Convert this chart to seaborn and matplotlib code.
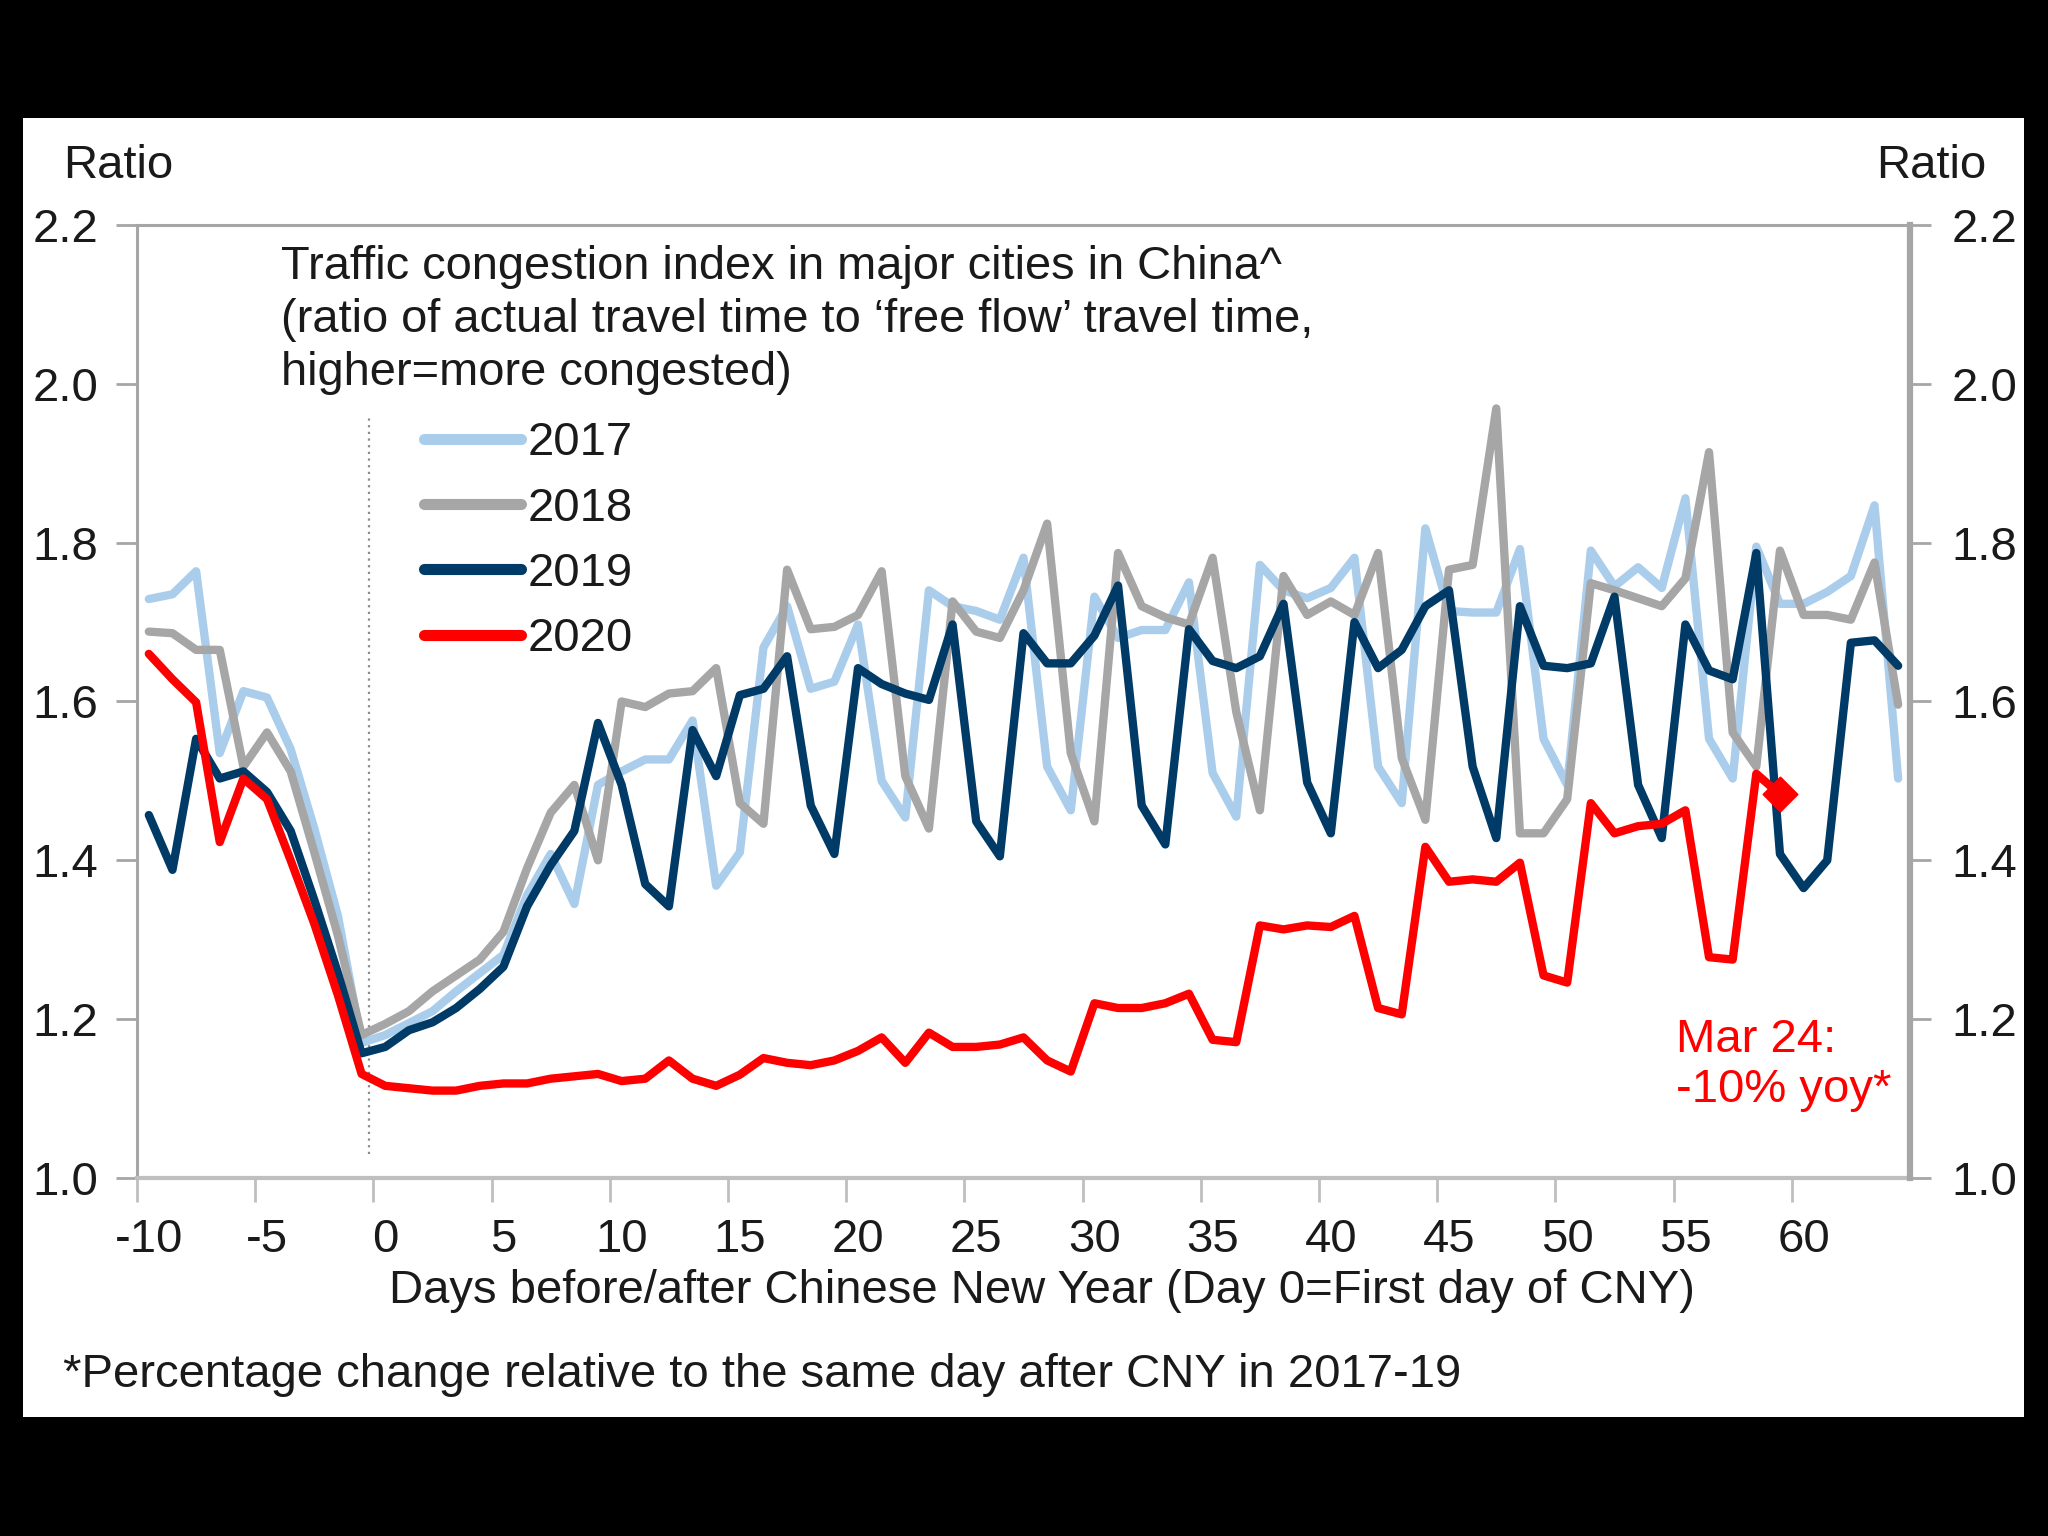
import numpy as np
import pandas as pd
import matplotlib
matplotlib.use("Agg")
import matplotlib.pyplot as plt
from matplotlib.lines import Line2D
from matplotlib.patches import Rectangle
import seaborn as sns

# ---------------- data ----------------
days = list(range(-10, 65))

y2017 = [1.729, 1.735, 1.764, 1.535, 1.613, 1.605, 1.540, 1.440, 1.330, 1.170,
         1.180, 1.195, 1.210, 1.235, 1.258, 1.281, 1.356, 1.408, 1.345, 1.495,
         1.512, 1.527, 1.527, 1.576, 1.368, 1.410, 1.668, 1.720, 1.616, 1.625,
         1.697, 1.500, 1.454, 1.740, 1.720, 1.714, 1.703, 1.781, 1.518, 1.463,
         1.732, 1.680, 1.690, 1.690, 1.750, 1.510, 1.455, 1.772, 1.740, 1.730,
         1.743, 1.781, 1.518, 1.472, 1.818, 1.714, 1.712, 1.712, 1.792, 1.553,
         1.495, 1.790, 1.745, 1.769, 1.743, 1.856, 1.553, 1.503, 1.795, 1.723,
         1.723, 1.738, 1.758, 1.847, 1.503]

y2018 = [1.688, 1.686, 1.665, 1.665, 1.518, 1.561, 1.512, 1.410, 1.305, 1.180,
         1.194, 1.210, 1.235, 1.255, 1.275, 1.310, 1.390, 1.460, 1.495, 1.400,
         1.600, 1.593, 1.610, 1.613, 1.642, 1.472, 1.446, 1.766, 1.691, 1.694,
         1.709, 1.764, 1.506, 1.440, 1.726, 1.688, 1.680, 1.740, 1.824, 1.535,
         1.449, 1.787, 1.720, 1.706, 1.697, 1.781, 1.587, 1.463, 1.758, 1.709,
         1.726, 1.709, 1.787, 1.529, 1.451, 1.766, 1.772, 1.969, 1.434, 1.434,
         1.477, 1.749, 1.740, 1.730, 1.720, 1.755, 1.914, 1.561, 1.518, 1.790,
         1.709, 1.709, 1.703, 1.775, 1.596]

y2019 = [1.457, 1.388, 1.553, 1.503, 1.512, 1.486, 1.437, 1.350, 1.258, 1.157,
         1.165, 1.186, 1.196, 1.214, 1.238, 1.266, 1.342, 1.394, 1.437, 1.573,
         1.495, 1.370, 1.342, 1.564, 1.506, 1.608, 1.616, 1.657, 1.469, 1.408,
         1.642, 1.622, 1.610, 1.602, 1.697, 1.449, 1.405, 1.686, 1.648, 1.648,
         1.683, 1.746, 1.469, 1.420, 1.691, 1.651, 1.642, 1.657, 1.723, 1.498,
         1.434, 1.700, 1.642, 1.665, 1.720, 1.740, 1.518, 1.428, 1.720, 1.645,
         1.642, 1.648, 1.732, 1.495, 1.428, 1.697, 1.639, 1.628, 1.787, 1.408,
         1.365, 1.400, 1.674, 1.677, 1.645]

y2020 = [1.660, 1.628, 1.599, 1.423, 1.503, 1.477, 1.400, 1.320, 1.230, 1.131,
         1.116, 1.113, 1.110, 1.110, 1.116, 1.119, 1.119, 1.125, 1.128, 1.131,
         1.122, 1.125, 1.148, 1.125, 1.116, 1.130, 1.151, 1.145, 1.142, 1.148,
         1.160, 1.177, 1.145, 1.183, 1.165, 1.165, 1.168, 1.177, 1.148, 1.134,
         1.220, 1.214, 1.214, 1.220, 1.232, 1.174, 1.171, 1.318, 1.313, 1.318,
         1.316, 1.330, 1.214, 1.206, 1.417, 1.373, 1.376, 1.373, 1.397, 1.255,
         1.246, 1.472, 1.434, 1.443, 1.446, 1.463, 1.278, 1.275, 1.509, 1.483]

years = ["2017", "2018", "2019", "2020"]
series = [y2017, y2018, y2019, y2020]
colors = {"2017": "#A9CDEB", "2018": "#A6A6A6", "2019": "#003A66", "2020": "#FF0000"}

last_day = 59
last_value = y2020[-1]

yticks = [1.0, 1.2, 1.4, 1.6, 1.8, 2.0, 2.2]
ytick_labels = ["1.0", "1.2", "1.4", "1.6", "1.8", "2.0", "2.2"]
xticks = list(range(-10, 61, 5))
xtick_labels = [str(v) for v in xticks]

title = ("Traffic congestion index in major cities in China^\n"
         "(ratio of actual travel time to \u2018free flow\u2019 travel time,\n"
         "higher=more congested)")
xlabel = "Days before/after Chinese New Year (Day 0=First day of CNY)"
footnote = "*Percentage change relative to the same day after CNY in 2017-19"
annot = "Mar 24:\n-10% yoy*"

rows = []
for yr, vals in zip(years, series):
    for d, v in zip(days, vals):
        rows.append({"day": d, "value": v, "year": yr})
df = pd.DataFrame(rows)

# ---------------- style ----------------
sns.set_theme(style="white")
FONT = ["Liberation Sans", "DejaVu Sans"]
plt.rcParams["font.family"] = FONT
FS = 34
TXT = "#1A1A1A"

fig = plt.figure(figsize=(20.48, 15.36), dpi=100, facecolor="black")
fig.patches.append(Rectangle((0.0112, 0.0775), 0.9771, 0.8457,
                             transform=fig.transFigure, facecolor="white",
                             edgecolor="none", zorder=-5))

ax = fig.add_axes([0.0669, 0.2331, 0.8657, 0.6204])
ax.set_facecolor("white")

sns.lineplot(data=df, x="day", y="value", hue="year", hue_order=years,
             palette=colors, linewidth=6.0, ax=ax, legend=False,
             estimator=None, sort=False)
sns.scatterplot(x=[last_day], y=[last_value], marker="D", s=300,
                color="#FF0000", edgecolor="#FF0000", ax=ax, zorder=5,
                legend=False)

ax.set_xlim(-10.5, 64.5)
ax.set_ylim(1.0, 2.2)
ax.set_xlabel("")
ax.set_ylabel("")

ax.set_yticks(yticks)
ax.set_yticklabels(ytick_labels)
ax.set_xticks(xticks)
ax.set_xticklabels(xtick_labels)
ax.set_xticks(np.arange(-10.5, 60, 5), minor=True)

ax.tick_params(axis="y", which="major", direction="out", length=15, width=2,
               color="#A6A6A6", pad=13, labelsize=FS, left=True, labelcolor=TXT)
ax.tick_params(axis="x", which="major", length=0, pad=29, labelsize=FS,
               labelcolor=TXT)
ax.tick_params(axis="x", which="minor", direction="out", length=17, width=2,
               color="#BFBFBF", bottom=True)

for s in ["left", "top"]:
    ax.spines[s].set_color("#A6A6A6")
    ax.spines[s].set_linewidth(2.2)
ax.spines["bottom"].set_color("#BFBFBF")
ax.spines["bottom"].set_linewidth(3)
ax.spines["right"].set_visible(False)

ax2 = ax.twinx()
ax2.set_ylim(1.0, 2.2)
ax2.set_yticks(yticks)
ax2.set_yticklabels(ytick_labels)
ax2.tick_params(axis="y", direction="out", length=15, width=2, color="#A6A6A6",
                pad=15, labelsize=FS, right=True, labelcolor=TXT)
for s in ["left", "top", "bottom"]:
    ax2.spines[s].set_visible(False)
ax2.spines["right"].set_color("#A6A6A6")
ax2.spines["right"].set_linewidth(4.5)
ax2.grid(False)

# Day 0 marker
ax.plot([-0.7, -0.7], [1.03, 1.96], linestyle=(0, (1, 2)), color="#8C8C8C",
        linewidth=1.6, zorder=1)

ax.text(-4.4, 2.080, title, ha="left", va="center", fontsize=33.8,
        linespacing=1.26, color=TXT)

handles = [Line2D([0], [0], color=colors[y], linewidth=8) for y in years]
leg = ax.legend(handles, years, loc="upper left", bbox_to_anchor=(0.162, 0.794),
                frameon=False, fontsize=FS, handlelength=2.05, handletextpad=0.15,
                labelspacing=0.45, borderpad=0, borderaxespad=0)
for t in leg.get_texts():
    t.set_color(TXT)

ax.text(54.6, 1.202, annot, ha="left", va="top", fontsize=FS, color="#FF0000",
        linespacing=1.18)

fig.text(0.031, 0.892, "Ratio", ha="left", va="center", fontsize=FS, color=TXT)
fig.text(0.970, 0.892, "Ratio", ha="right", va="center", fontsize=FS, color=TXT)
fig.text(0.509, 0.1595, xlabel, ha="center", va="center", fontsize=FS, color=TXT)
fig.text(0.031, 0.105, footnote, ha="left", va="center", fontsize=FS, color=TXT)

fig.savefig("out.png", dpi=100, facecolor="black")
